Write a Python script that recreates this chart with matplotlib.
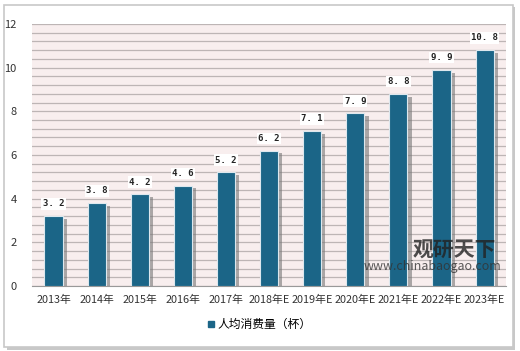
import matplotlib.pyplot as plt
import matplotlib.patheffects as pe
from matplotlib.patches import Rectangle
import numpy as np

plt.rcParams['font.family'] = ['Noto Sans CJK SC', 'DejaVu Sans']

# data
years = ['2013年', '2014年', '2015年', '2016年', '2017年', '2018年E',
         '2019年E', '2020年E', '2021年E', '2022年E', '2023年E']
values = [3.2, 3.8, 4.2, 4.6, 5.2, 6.2, 7.1, 7.9, 8.8, 9.9, 10.8]
labels = ['3.2', '3.8', '4.2', '4.6', '5.2', '6.2', '7.1', '7.9', '8.8', '9.9', '10.8']
series_name = '人均消费量（杯）'

bar_color = '#1b6587'

fig = plt.figure(figsize=(5.2, 3.51), dpi=100)

# outer frame with shadow
frame = Rectangle((0.008, 0.012), 0.978, 0.975, transform=fig.transFigure,
                  facecolor='white', edgecolor='#c8c8c8', linewidth=1.2, zorder=-5,
                  path_effects=[pe.withSimplePatchShadow(offset=(2, -2), shadow_rgbFace='#bbbbbb', alpha=0.8)])
fig.patches.append(frame)

ax = fig.add_axes([0.0615, 0.185, 0.912, 0.747])
ax.set_facecolor('#f8eeee')

x = np.arange(len(years))
bars = ax.bar(x, values, width=0.42, color=bar_color, edgecolor='#dde8ee', linewidth=0.8, zorder=3,
              path_effects=[pe.withSimplePatchShadow(offset=(3, -2), shadow_rgbFace='#777777', alpha=0.6)])

for xi, v, lab in zip(x, values, labels):
    ax.text(xi, v + 0.35, lab.replace('.', '. '), ha='center', va='bottom', fontsize=6.5,
            fontweight='bold', color='#222222', family='DejaVu Sans Mono', zorder=5,
            bbox=dict(boxstyle='square,pad=0.15', facecolor='white', edgecolor='none'))

ax.set_xlim(-0.5, len(years) - 0.5)
ax.set_ylim(0, 12)
ax.set_yticks(np.arange(0, 13, 2))
ax.set_yticks(np.arange(0, 12.01, 0.4), minor=True)
ax.yaxis.grid(True, which='both', color='#bdb5b5', linewidth=0.9, zorder=0)
ax.set_axisbelow(True)
ax.tick_params(axis='y', which='both', length=0, labelsize=8, colors='#333333', pad=11)
ax.set_xticks(x)
ax.set_xticklabels(years, fontsize=7.8, color='#333333')
ax.tick_params(axis='x', length=0, pad=6)
for s in ['top', 'right', 'left']:
    ax.spines[s].set_visible(False)
ax.spines['bottom'].set_color('#999999')

# watermark
ax.text(0.89, 0.137, '观研天下', transform=ax.transAxes, fontsize=15, fontweight='bold',
        color='#222222', alpha=0.8, ha='center', va='center', zorder=6)
ax.text(0.845, 0.075, 'www.chinabaogao.com', transform=ax.transAxes, fontsize=9,
        color='#333333', alpha=0.8, ha='center', va='center', zorder=6)

# legend
fig.legend([Rectangle((0, 0), 1, 1, color=bar_color)], [series_name], loc='center',
           bbox_to_anchor=(0.5, 0.075), frameon=False, fontsize=8.5,
           handlelength=0.5, handleheight=0.5, handletextpad=0.3)

fig.savefig('out.png', dpi=100)
